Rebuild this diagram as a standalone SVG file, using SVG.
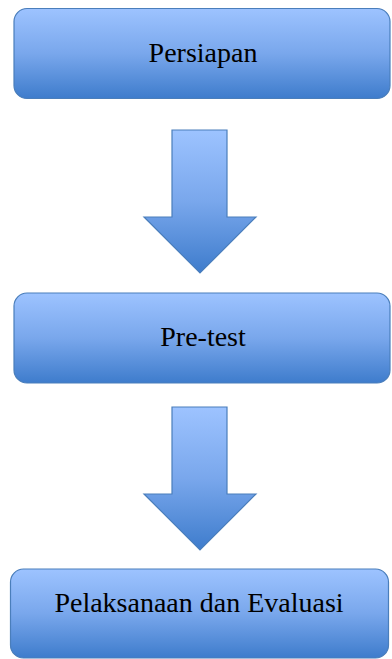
<svg xmlns="http://www.w3.org/2000/svg" width="392" height="659" viewBox="0 0 392 659">
<defs>
<linearGradient id="g" x1="0" y1="0" x2="0" y2="1">
<stop offset="0" stop-color="#9dc3ff"/>
<stop offset="0.5" stop-color="#79a7ec"/>
<stop offset="1" stop-color="#3e7ccc"/>
</linearGradient>
<style>
.box{fill:url(#g);stroke:#4a7ebb;stroke-width:1.2}
.arr{fill:url(#g);stroke:#4a7ebb;stroke-width:1.2;stroke-linejoin:miter}
.t{font-family:"Liberation Serif","Times New Roman",serif;font-size:28px;fill:#000;text-anchor:middle}
</style>
</defs>
<g id="n1">
<rect class="box" x="14" y="8.5" width="376" height="90" rx="13"/>
<text class="t" x="203" y="62">Persiapan</text>
</g>
<g id="n2">
<rect class="box" x="14" y="293" width="376" height="90" rx="13"/>
<text class="t" x="203" y="346">Pre-test</text>
</g>
<g id="n3">
<rect class="box" x="10.5" y="569" width="378" height="89" rx="13"/>
<text class="t" x="199" y="612">Pelaksanaan dan Evaluasi</text>
</g>
<g id="connectors">
<path class="arr" d="M172 130 H227 V217 H256 L200 273 L144 217 H172 Z"/>
<path class="arr" d="M172 407 H227 V494 H256 L200 550 L144 494 H172 Z"/>
</g>
</svg>
